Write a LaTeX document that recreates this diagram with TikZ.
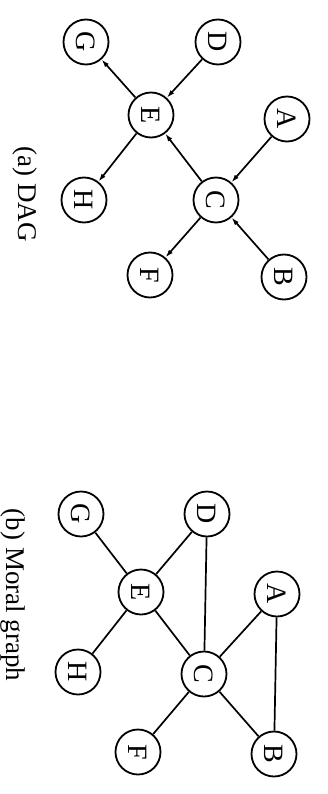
\documentclass[tikz,border=0pt]{standalone}
\usepackage{fontspec}
\setmainfont{Liberation Serif}
\usetikzlibrary{arrows.meta}
\begin{document}
\begin{tikzpicture}[x=1pt,y=-1pt,
  vnode/.style={circle,draw,line width=1.8pt,minimum size=45pt,inner sep=0pt,
    font=\fontsize{28}{28}\selectfont,rotate=-90},
  arr/.style={line width=1.7pt,-{Latex[length=8pt,width=5pt]}},
  plainedge/.style={line width=1.7pt},
  captext/.style={font=\fontsize{27}{27}\selectfont,rotate=-90,inner sep=0pt}]
\useasboundingbox (0,0) rectangle (327,794);
% (a) DAG
\node[vnode] (aG) at (86,42) {G};
\node[vnode] (aD) at (218,42) {D};
\node[vnode] (aE) at (151,115) {E};
\node[vnode] (aA) at (287,119) {A};
\node[vnode] (aH) at (84,200) {H};
\node[vnode] (aC) at (216,200) {C};
\node[vnode] (aF) at (150,275) {F};
\node[vnode] (aB) at (284,277) {B};
\draw[arr] (aA) -- (aC);
\draw[arr] (aB) -- (aC);
\draw[arr] (aC) -- (aE);
\draw[arr] (aC) -- (aF);
\draw[arr] (aD) -- (aE);
\draw[arr] (aE) -- (aG);
\draw[arr] (aE) -- (aH);
\node[captext] (la) at (25,194) {(a) DAG};
% (b) Moral graph
\node[vnode] (bG) at (81,514) {G};
\node[vnode] (bD) at (207,514) {D};
\node[vnode] (bE) at (141,592) {E};
\node[vnode] (bA) at (277,594) {A};
\node[vnode] (bH) at (78,672) {H};
\node[vnode] (bC) at (204,674) {C};
\node[vnode] (bF) at (138,752) {F};
\node[vnode] (bB) at (274,754) {B};
\draw[plainedge] (bA) -- (bC);
\draw[plainedge] (bB) -- (bC);
\draw[plainedge] (bA) -- (bB);
\draw[plainedge] (bC) -- (bE);
\draw[plainedge] (bC) -- (bF);
\draw[plainedge] (bD) -- (bE);
\draw[plainedge] (bD) -- (bC);
\draw[plainedge] (bE) -- (bG);
\draw[plainedge] (bE) -- (bH);
\node[captext] (lb) at (13,595) {(b) Moral graph};
\end{tikzpicture}
\end{document}
